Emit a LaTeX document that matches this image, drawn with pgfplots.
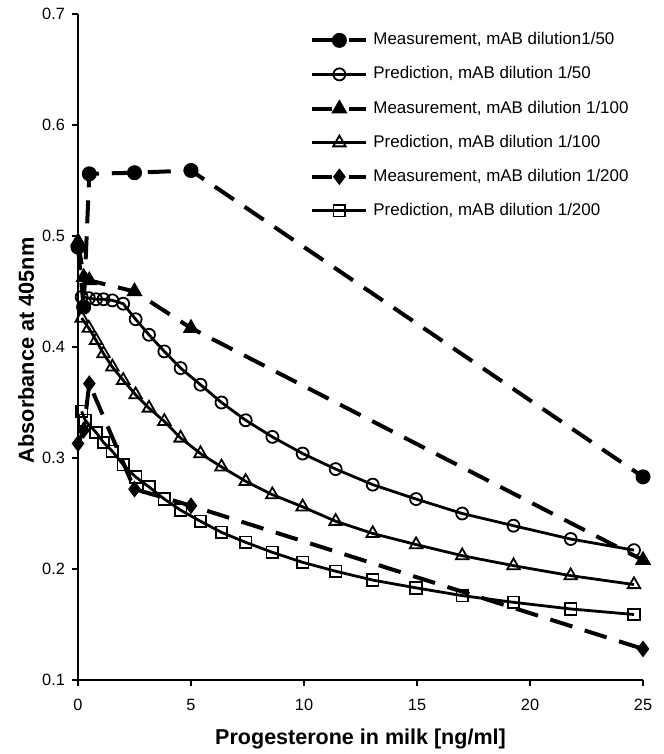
\documentclass[border=0pt]{standalone}
\usepackage{pgfplots}
\pgfplotsset{compat=1.18}
\usepackage{fontspec}
\setmainfont{Liberation Sans}

% 1 px of the reference = 0.5 bp here
\pgfplotsset{
  meas/.style={black, line width=2bp, dash pattern=on 11.5bp off 6.5bp,
    mark options={solid, fill=black, line width=0.5bp},
    legend image post style={dash pattern=on 10bp off 8.5bp}},
  pred/.style={black, line width=1.4bp, solid,
    mark options={solid, fill=none, line width=0.9bp}},
}

\begin{document}
\begin{tikzpicture}
\begin{axis}[
  name=ax,
  scale only axis,
  width=282.5bp, height=333bp,
  xmin=0, xmax=25, ymin=0.1, ymax=0.7,
  axis lines=left,
  axis line style={-, line width=0.8bp},
  xtick={0,5,...,25},
  ytick={0.1,0.2,...,0.7},
  tick align=outside,
  major tick length=3bp,
  tick style={line width=0.8bp, black},
  tick label style={font=\fontsize{8.2}{10}\selectfont},
  xticklabel style={yshift=-3bp},
  /pgf/number format/assume math mode=true,
  yticklabel style={/pgf/number format/.cd, fixed, fixed zerofill, precision=1},
  clip=false,
  xlabel={\bfseries Progesterone in milk [ng/ml]},
  ylabel={\bfseries Absorbance at 405nm},
  every axis x label/.style={at={(axis description cs:0.5,0)}, yshift=-29.5bp,
    anchor=center, font=\fontsize{10.8}{12}\selectfont},
  every axis y label/.style={at={(axis description cs:0,0.495)}, xshift=-26bp,
    rotate=90, anchor=center, font=\fontsize{10.9}{12}\selectfont},
  legend style={at={(0.4106,0.973)}, anchor=north west, draw=none, fill=none,
    inner sep=0pt, row sep=9bp,
    font=\fontsize{8.5}{10}\selectfont,
    nodes={inner sep=0pt, text height=6.2bp, text depth=1.8bp},
    /tikz/every odd column/.append style={column sep=2.5bp}},
  legend cell align=left,
  legend image code/.code={
    \draw[mark repeat=2, mark phase=2, #1]
      plot coordinates {(0bp,0bp) (13.5bp,0bp) (27bp,0bp)};},
]

\addplot[meas, mark=*, mark size=3.5bp] coordinates {
  (0,0.490) (0.25,0.436) (0.5,0.556) (2.5,0.557) (5,0.559) (25,0.283)};
\addlegendentry{Measurement, mAB dilution1/50}

\addplot[pred, mark=o, mark size=3bp] coordinates {
  (0.16,0.445) (0.48,0.444) (0.8,0.443) (1.13,0.443) (1.52,0.442) (2.0,0.439)
  (2.55,0.425) (3.14,0.411) (3.82,0.396) (4.54,0.381) (5.42,0.366) (6.35,0.350)
  (7.42,0.334) (8.6,0.319) (9.94,0.304) (11.4,0.290) (13.04,0.276) (14.96,0.263)
  (17.0,0.250) (19.27,0.239) (21.8,0.227) (24.6,0.217)};
\addlegendentry{Prediction, mAB dilution 1/50}

\addplot[meas, mark=triangle*, mark size=4.2bp] coordinates {
  (0,0.495) (0.25,0.463) (0.5,0.460) (2.5,0.450) (5,0.417) (25,0.208)};
\addlegendentry{Measurement, mAB dilution 1/100}

\addplot[pred, mark=triangle, mark size=3.6bp] coordinates {
  (0.16,0.426) (0.48,0.417) (0.8,0.406) (1.13,0.394) (1.52,0.382) (2.0,0.370)
  (2.55,0.357) (3.14,0.345) (3.82,0.333) (4.54,0.318) (5.42,0.304) (6.35,0.292)
  (7.42,0.279) (8.6,0.267) (9.94,0.256) (11.4,0.243) (13.04,0.232) (14.96,0.222)
  (17.0,0.212) (19.27,0.203) (21.8,0.194) (24.6,0.186)};
\addlegendentry{Prediction, mAB dilution 1/100}

\addplot[meas, mark=diamond*, mark size=3.8bp] coordinates {
  (0,0.313) (0.25,0.325) (0.5,0.367) (2.5,0.272) (5,0.257) (25,0.128)};
\addlegendentry{Measurement, mAB dilution 1/200}

\addplot[pred, mark=square, mark size=2.9bp] coordinates {
  (0.16,0.342) (0.32,0.334) (0.8,0.323) (1.13,0.314) (1.52,0.306) (2.0,0.294)
  (2.55,0.283) (3.14,0.274) (3.82,0.263) (4.54,0.253) (5.42,0.243) (6.35,0.233)
  (7.42,0.224) (8.6,0.215) (9.94,0.206) (11.4,0.198) (13.04,0.190) (14.96,0.183)
  (17.0,0.176) (19.27,0.170) (21.8,0.164) (24.6,0.159)};
\addlegendentry{Prediction, mAB dilution 1/200}

\end{axis}
\pgfresetboundingbox
\useasboundingbox ([shift={(-39bp,-37bp)}]ax.south west)
  rectangle ([shift={(10bp,7bp)}]ax.north east);
\end{tikzpicture}
\end{document}
